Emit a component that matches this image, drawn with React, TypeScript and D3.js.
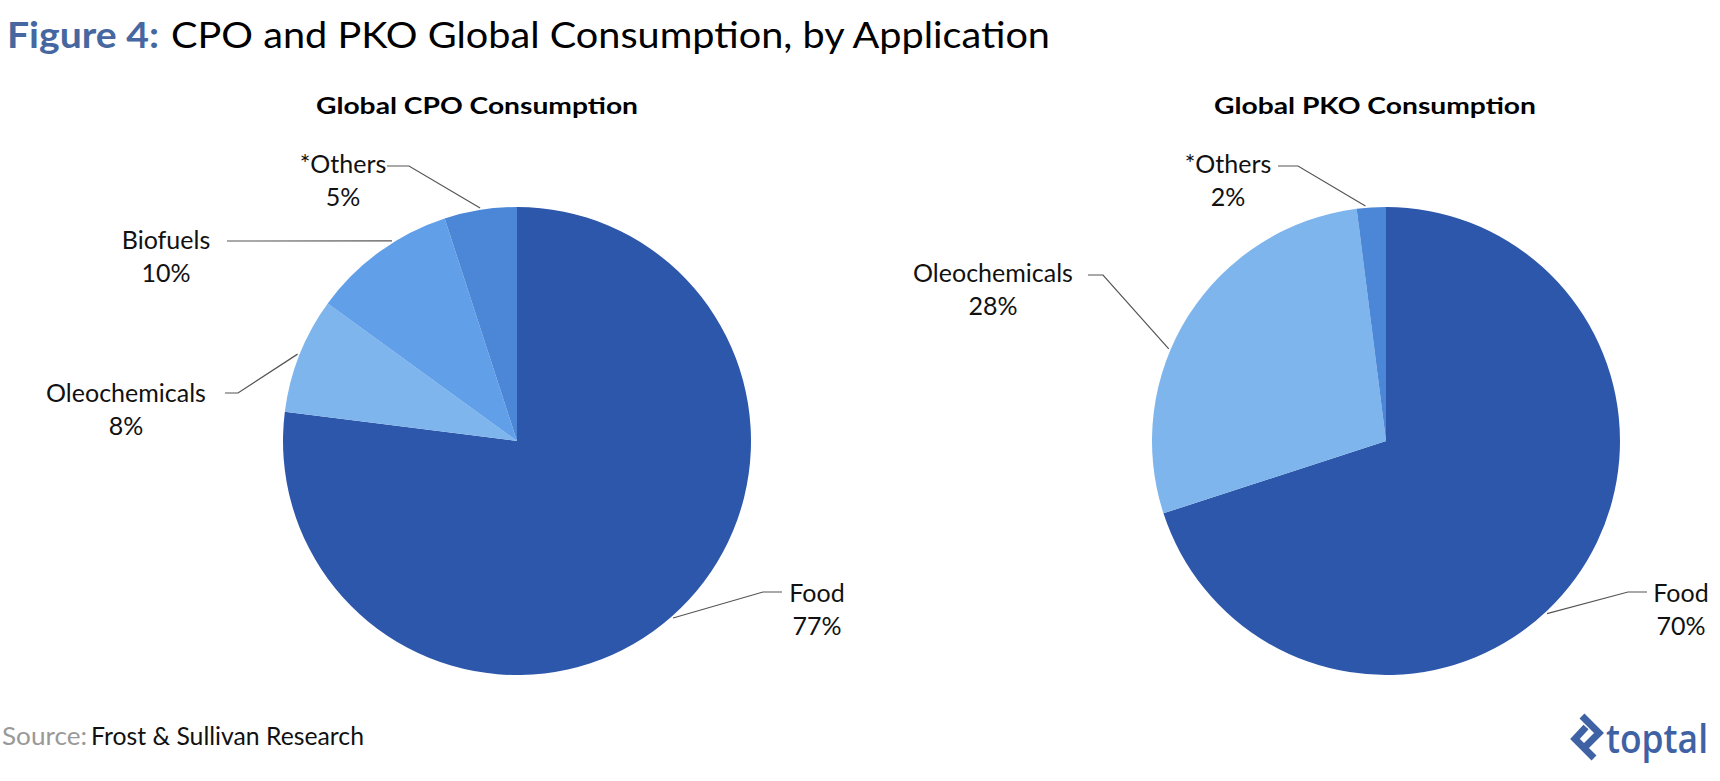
import React from "react";
import * as d3 from "d3";

// Consumption shares (%) by application
const cpoCategories = ["Food", "Oleochemicals", "Biofuels", "*Others"];
const cpoValues = [77, 8, 10, 5];

const pkoCategories = ["Food", "Oleochemicals", "*Others"];
const pkoValues = [70, 28, 2];

const sliceColors: Record<string, string> = {
  Food: "#2D57AA",
  Oleochemicals: "#7DB5EC",
  Biofuels: "#61A0E8",
  "*Others": "#4B86D7",
};

type LabelLayout = {
  x: number; // label centre
  y: number; // first baseline
  elbow: [number, number];
  end: [number, number];
  angle?: number; // leader anchor on the rim, degrees clockwise from 12 o'clock
};

const FONT = "Lato, 'Open Sans', sans-serif";
const W = 1720;
const H = 781;
const R = 234;

const cpoLabels: Record<string, LabelLayout> = {
  "*Others": { x: 343, y: 173, elbow: [409, 166], end: [387, 166] },
  Biofuels: { x: 166, y: 249, elbow: [227, 241], end: [227, 241], angle: 328 },
  Oleochemicals: { x: 126, y: 402, elbow: [238, 393], end: [225, 393] },
  Food: { x: 817, y: 602, elbow: [763, 592], end: [782, 592] },
};

const pkoLabels: Record<string, LabelLayout> = {
  "*Others": { x: 1228, y: 173, elbow: [1298, 166], end: [1278, 166], angle: 355 },
  Oleochemicals: { x: 993, y: 282, elbow: [1103, 275], end: [1088, 275], angle: 293 },
  Food: { x: 1681, y: 602, elbow: [1628, 592], end: [1647, 592], angle: 137 },
};

function Pie({
  cx,
  cy,
  title,
  titleX,
  categories,
  values,
  labels,
}: {
  cx: number;
  cy: number;
  title: string;
  titleX: number;
  categories: string[];
  values: number[];
  labels: Record<string, LabelLayout>;
}) {
  const rows = categories.map((c, i) => ({ label: c, value: values[i] }));
  const pie = d3
    .pie<{ label: string; value: number }>()
    .sort(null)
    .value((d) => d.value);
  const arc = d3
    .arc<d3.PieArcDatum<{ label: string; value: number }>>()
    .innerRadius(0)
    .outerRadius(R);
  const arcs = pie(rows);

  return (
    <g>
      <text
        x={titleX}
        y={114}
        textAnchor="middle"
        fontFamily={FONT}
        fontWeight={700}
        fontSize={22}
        fill="#000"
        textLength={322}
        lengthAdjust="spacingAndGlyphs"
      >
        {title}
      </text>
      <g transform={`translate(${cx},${cy})`}>
        {arcs.map((a) => (
          <path key={a.data.label} d={arc(a) || ""} fill={sliceColors[a.data.label]} />
        ))}
      </g>
      {arcs.map((a) => {
        const l = labels[a.data.label];
        const ang =
          l.angle !== undefined ? (l.angle * Math.PI) / 180 : (a.startAngle + a.endAngle) / 2;
        const rim: [number, number] = [cx + Math.sin(ang) * (R + 2), cy - Math.cos(ang) * (R + 2)];
        const pts = d3.line()([l.end, l.elbow, rim]);
        return (
          <g key={a.data.label}>
            <path d={pts || ""} fill="none" stroke="#555" strokeWidth={1.2} />
            <text
              x={l.x}
              y={l.y}
              textAnchor="middle"
              fontFamily={FONT}
              fontSize={25}
              fill="#111"
            >
              {a.data.label}
            </text>
            <text
              x={l.x}
              y={l.y + 33}
              textAnchor="middle"
              fontFamily={FONT}
              fontSize={25}
              fill="#111"
            >
              {`${a.data.value}%`}
            </text>
          </g>
        );
      })}
    </g>
  );
}

export default function App() {
  return (
    <svg
      width={W}
      height={H}
      viewBox={`0 0 ${W} ${H}`}
      style={{ position: "absolute", left: 0, top: 0, background: "#fff" }}
    >
      <text
        x={7}
        y={48}
        fontFamily={FONT}
        fontSize={37}
        fontWeight={700}
        fill="#46679F"
        textLength={152}
        lengthAdjust="spacingAndGlyphs"
      >
        Figure 4:
      </text>
      <text
        x={171}
        y={48}
        fontFamily={FONT}
        fontSize={37}
        fill="#000"
        textLength={879}
        lengthAdjust="spacingAndGlyphs"
      >
        CPO and PKO Global Consumption, by Application
      </text>

      <Pie
        cx={517}
        cy={441}
        title="Global CPO Consumption"
        titleX={477}
        categories={cpoCategories}
        values={cpoValues}
        labels={cpoLabels}
      />
      <Pie
        cx={1386}
        cy={441}
        title="Global PKO Consumption"
        titleX={1375}
        categories={pkoCategories}
        values={pkoValues}
        labels={pkoLabels}
      />

      <text
        x={2}
        y={745}
        fontFamily={FONT}
        fontSize={25}
        fill="#999"
        textLength={85}
        lengthAdjust="spacingAndGlyphs"
      >
        Source:
      </text>
      <text
        x={91}
        y={745}
        fontFamily={FONT}
        fontSize={25}
        fill="#111"
        textLength={273}
        lengthAdjust="spacingAndGlyphs"
      >
        Frost &amp; Sullivan Research
      </text>

      {/* toptal mark */}
      <g fill="none" stroke="#3F62A5" strokeWidth={7} strokeLinejoin="miter">
        <path d="M1582,716 L1599,733 L1586,746" />
        <path d="M1586,727 L1575,739 L1594,758" />
      </g>
      <text
        x={1606}
        y={753}
        fontFamily="'Open Sans', Lato, sans-serif"
        fontSize={40}
        fontWeight={600}
        fill="#3F62A5"
        textLength={102}
        lengthAdjust="spacingAndGlyphs"
      >
        toptal
      </text>
    </svg>
  );
}
